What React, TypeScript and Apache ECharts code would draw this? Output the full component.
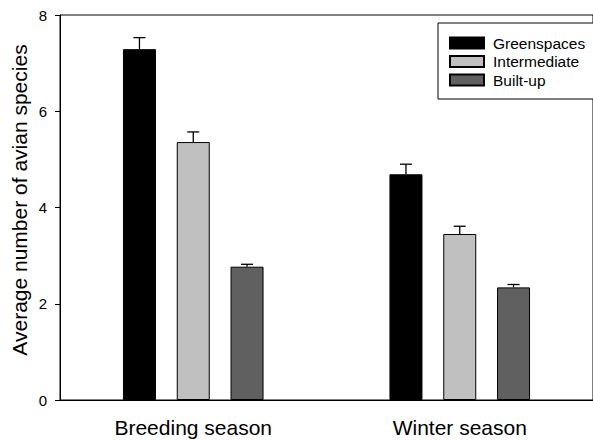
import React, { useEffect, useRef } from "react";
import * as echarts from "echarts";

const categories = ["Breeding season", "Winter season"];
const seriesNames = ["Greenspaces", "Intermediate", "Built-up"];
const greenspaces = [7.29, 4.69];
const intermediate = [5.36, 3.45];
const builtUp = [2.77, 2.34];
const greenspacesErr = [0.24, 0.21];
const intermediateErr = [0.21, 0.16];
const builtUpErr = [0.05, 0.06];
const yTicks = [0, 2, 4, 6, 8];
const yTitle = "Average number of avian species";

const colors = ["#000000", "#c0c0c0", "#606060"];
const FONT = "'Liberation Sans', Arial, sans-serif";
const BAR_W = 33;
const BAR_GAP = 0.63;

export default function App() {
  const ref = useRef<HTMLDivElement>(null);
  useEffect(() => {
    document.body.style.margin = "0";
    const chart = echarts.init(ref.current!, null, { renderer: "svg" });
    const values = [greenspaces, intermediate, builtUp];
    const errs = [greenspacesErr, intermediateErr, builtUpErr];
    const barSeries = values.map((v, i) => ({
      name: seriesNames[i],
      type: "bar",
      data: v,
      barWidth: BAR_W,
      barGap: `${BAR_GAP * 100}%`,
      itemStyle: { color: colors[i], borderColor: "#000", borderWidth: 1 },
      z: 2,
    }));
    const errSeries = values.map((v, i) => ({
      type: "custom",
      name: "err" + i,
      silent: true,
      z: 3,
      data: v.map((m, k) => [k, m, m + errs[i][k]]),
      renderItem: (params: any, api: any) => {
        const c = api.value(0);
        const p0 = api.coord([c, api.value(1)]);
        const p1 = api.coord([c, api.value(2)]);
        const x = p0[0] + (i - 1) * BAR_W * (1 + BAR_GAP);
        const half = 6;
        return {
          type: "group",
          children: [
            {
              type: "line",
              shape: { x1: x, y1: p0[1], x2: x, y2: p1[1] },
              style: { stroke: "#000", lineWidth: 1.3 },
            },
            {
              type: "line",
              shape: { x1: x - half, y1: p1[1], x2: x + half, y2: p1[1] },
              style: { stroke: "#000", lineWidth: 1.3 },
            },
          ],
        };
      },
    }));
    chart.setOption({
      animation: false,
      textStyle: { fontFamily: FONT },
      grid: {
        left: 60,
        top: 15,
        width: 536,
        height: 385,
        show: true,
        borderColor: "#000",
        borderWidth: 1,
        backgroundColor: "transparent",
      },
      graphic: [
        {
          type: "text",
          x: 19,
          y: 200,
          rotation: Math.PI / 2,
          style: {
            text: yTitle,
            fontSize: 21,
            fontFamily: FONT,
            fill: "#000",
            align: "center",
            verticalAlign: "middle",
          },
        },
      ],
      legend: {
        data: seriesNames,
        orient: "vertical",
        left: 438,
        top: 23,
        padding: [12, 11, 11, 11],
        icon: "rect",
        itemWidth: 34,
        itemHeight: 11,
        itemGap: 2.5,
        borderColor: "#000",
        borderWidth: 1,
        backgroundColor: "#fff",
        textStyle: {
          fontSize: 15.5,
          color: "#000",
          fontFamily: FONT,
          lineHeight: 15,
          padding: [0, 0, 0, 4],
        },
      },
      xAxis: {
        type: "category",
        data: categories,
        axisLine: { lineStyle: { color: "#000", width: 1 } },
        axisTick: { alignWithLabel: true, length: 5, lineStyle: { color: "#000" } },
        axisLabel: { fontSize: 21, color: "#000", margin: 17, fontFamily: FONT },
      },
      yAxis: {
        type: "value",
        min: yTicks[0],
        max: yTicks[yTicks.length - 1],
        interval: 2,
        splitLine: { show: false },
        axisLine: { show: true, lineStyle: { color: "#000", width: 1 } },
        axisTick: { show: true, length: 5, lineStyle: { color: "#000" } },
        axisLabel: { fontSize: 15, color: "#000", margin: 13, fontFamily: FONT },
      },
      series: [...barSeries, ...errSeries],
    });
    return () => chart.dispose();
  }, []);
  return <div ref={ref} style={{ width: 593, height: 440 }} />;
}
